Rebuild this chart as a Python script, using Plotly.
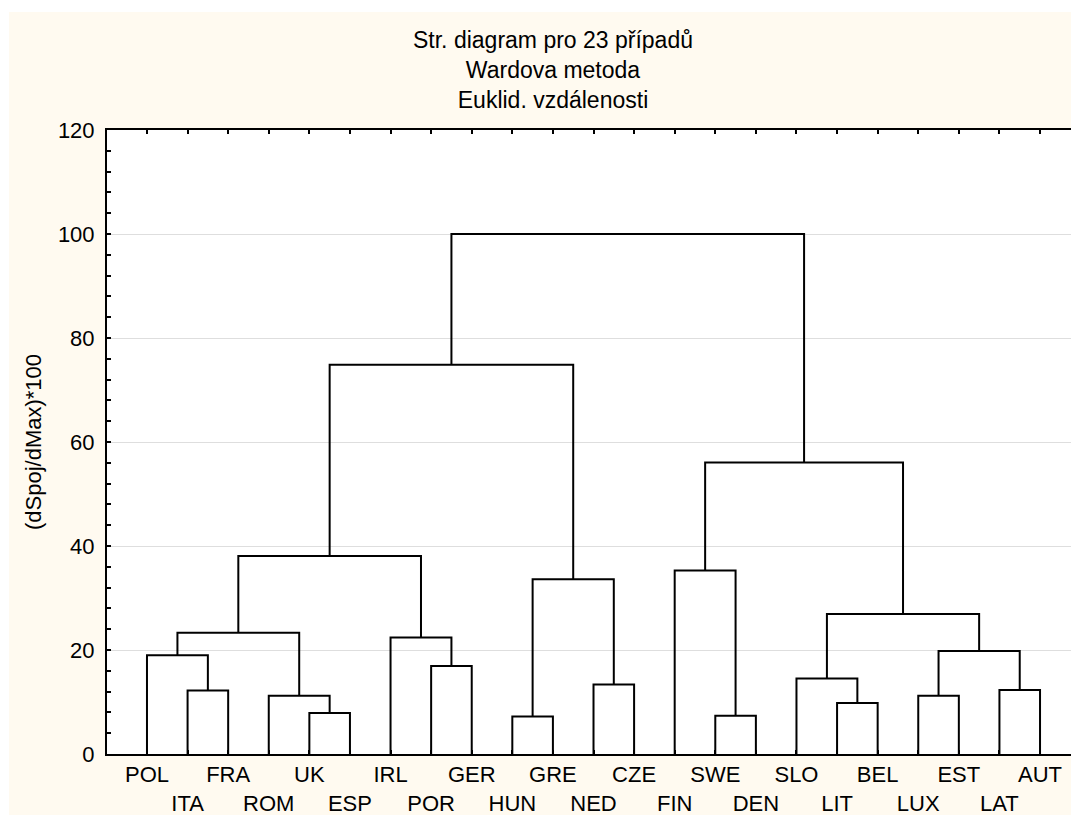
import plotly.graph_objects as go

# ---- data ----
leaf_labels = ["POL", "ITA", "FRA", "ROM", "UK", "ESP", "IRL", "POR", "GER", "HUN",
               "GRE", "NED", "CZE", "FIN", "SWE", "DEN", "SLO", "LIT", "BEL", "LUX",
               "EST", "LAT", "AUT"]
# merges: node ids 0..22 are leaves, 23.. are clusters in this order
merge_left = [1, 0, 4, 3, 24, 7, 6, 27, 9, 11, 31, 30, 14, 13, 17, 16, 19, 21, 39, 38, 36, 34]
merge_right = [2, 23, 5, 25, 26, 8, 28, 29, 10, 12, 32, 33, 15, 35, 18, 37, 20, 22, 40, 41, 42, 43]
merge_height = [12.2, 19.0, 7.9, 11.2, 23.3, 16.9, 22.4, 38.1, 7.2, 13.35, 33.6, 74.85,
                7.35, 35.3, 9.8, 14.5, 11.2, 12.3, 19.8, 26.9, 56.05, 100.0]
y_ticks = [0, 20, 40, 60, 80, 100, 120]

title_text = "Str. diagram pro 23 případů<br>Wardova metoda<br>Euklid. vzdálenosti"
y_title = "(dSpoj/dMax)*100"

# ---- build dendrogram paths ----
n = len(leaf_labels)
pos = {i: float(i) for i in range(n)}
hgt = {i: 0.0 for i in range(n)}
xs, ys = [], []
for k, (a, b, h) in enumerate(zip(merge_left, merge_right, merge_height)):
    node = n + k
    xs += [pos[a], pos[a], pos[b], pos[b], None]
    ys += [hgt[a], h, h, hgt[b], None]
    pos[node] = (pos[a] + pos[b]) / 2.0
    hgt[node] = h

W, H = 1071, 807
ML, MT, MB = 99, 122, 61
PW, PH = W - ML, H - MT - MB

FONT = "Arial, Liberation Sans, sans-serif"
fig = go.Figure()
fig.add_trace(go.Scatter(x=xs, y=ys, mode="lines",
                         line=dict(color="black", width=2),
                         hoverinfo="skip", showlegend=False))

ticktext = [lab if i % 2 == 0 else "<br>" + lab for i, lab in enumerate(leaf_labels)]

fig.update_layout(
    width=W, height=H,
    margin=dict(l=ML, r=0, t=MT, b=MB, autoexpand=False),
    paper_bgcolor="#FFFAF0",
    plot_bgcolor="white",
    font=dict(family=FONT, color="black", size=22),
    title=dict(text=title_text, x=545 / W, xanchor="center",
               y=1 - 40 / H, yanchor="middle", yref="container",
               font=dict(family=FONT, size=23, color="black")),
    showlegend=False,
)
fig.update_xaxes(
    range=[-0.985, 22.96],
    tickvals=list(range(n)), ticktext=ticktext, tickangle=0,
    ticks="inside", ticklen=4, tickwidth=1.5, tickcolor="black",
    showline=True, linecolor="black", linewidth=2, mirror="ticks",
    showgrid=False, zeroline=False,
    tickfont=dict(family=FONT, size=22, color="black"),
)
fig.update_yaxes(
    range=[0, 120], tickvals=y_ticks,
    ticks="inside", ticklen=4, tickwidth=1.5, tickcolor="black",
    minor=dict(dtick=4, ticks="inside", ticklen=4, tickwidth=1.5, tickcolor="black", showgrid=False),
    showline=True, linecolor="black", linewidth=2, mirror=False,
    showgrid=True, gridcolor="#dedede", gridwidth=1, zeroline=False,
    ticklabelstandoff=6,
    tickfont=dict(family=FONT, size=22, color="black"),
    title=dict(text=y_title, font=dict(family=FONT, size=22, color="black"), standoff=10),
)
# thin white strips outside the cream panel (top and left)
fig.add_shape(type="rect", xref="paper", yref="paper",
              x0=-ML / PW - 0.01, x1=1.01, y0=(PH + MT - 4) / PH, y1=(PH + MT) / PH + 0.01,
              fillcolor="white", line=dict(width=0), layer="above")
fig.add_shape(type="rect", xref="paper", yref="paper",
              x0=-ML / PW - 0.01, x1=(1 - ML) / PW, y0=-MB / PH - 0.01, y1=(PH + MT) / PH + 0.01,
              fillcolor="white", line=dict(width=0), layer="above")

fig.write_html("out.html")
